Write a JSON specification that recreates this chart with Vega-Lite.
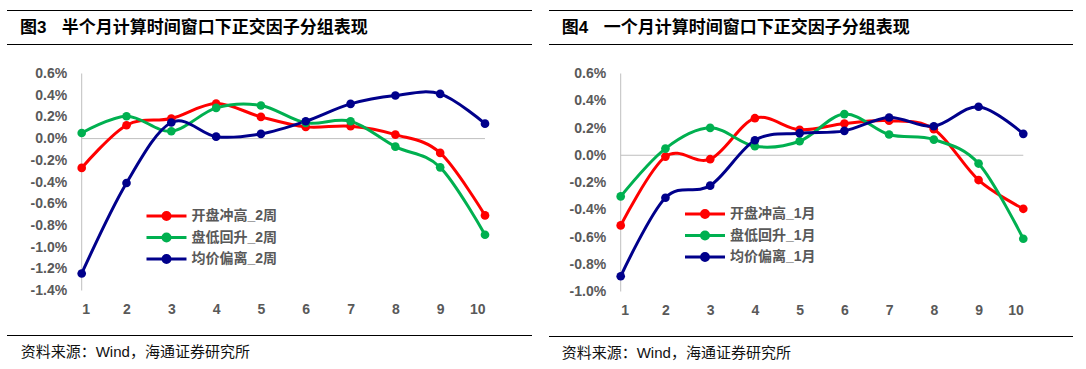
{
  "$schema": "https://vega.github.io/schema/vega-lite/v6.json",
  "padding": {"left": 6, "top": 9.5, "right": 0, "bottom": 0},
  "background": "white",
  "config": {"view": {"stroke": null}, "font": "Liberation Sans"},
  "datasets": {
    "left": [
      {"group": 1, "series": "开盘冲高_2周", "value": -0.0027},
      {"group": 2, "series": "开盘冲高_2周", "value": 0.00123},
      {"group": 3, "series": "开盘冲高_2周", "value": 0.00185},
      {"group": 4, "series": "开盘冲高_2周", "value": 0.00323},
      {"group": 5, "series": "开盘冲高_2周", "value": 0.002},
      {"group": 6, "series": "开盘冲高_2周", "value": 0.00108},
      {"group": 7, "series": "开盘冲高_2周", "value": 0.00114},
      {"group": 8, "series": "开盘冲高_2周", "value": 0.00037},
      {"group": 9, "series": "开盘冲高_2周", "value": -0.00132},
      {"group": 10, "series": "开盘冲高_2周", "value": -0.00708},
      {"group": 1, "series": "盘低回升_2周", "value": 0.00052},
      {"group": 2, "series": "盘低回升_2周", "value": 0.00206},
      {"group": 3, "series": "盘低回升_2周", "value": 0.00068},
      {"group": 4, "series": "盘低回升_2周", "value": 0.00283},
      {"group": 5, "series": "盘低回升_2周", "value": 0.00305},
      {"group": 6, "series": "盘低回升_2周", "value": 0.00145},
      {"group": 7, "series": "盘低回升_2周", "value": 0.0016},
      {"group": 8, "series": "盘低回升_2周", "value": -0.00074},
      {"group": 9, "series": "盘低回升_2周", "value": -0.00265},
      {"group": 10, "series": "盘低回升_2周", "value": -0.00886},
      {"group": 1, "series": "均价偏离_2周", "value": -0.01243},
      {"group": 2, "series": "均价偏离_2周", "value": -0.00409},
      {"group": 3, "series": "均价偏离_2周", "value": 0.00148},
      {"group": 4, "series": "均价偏离_2周", "value": 0.00018},
      {"group": 5, "series": "均价偏离_2周", "value": 0.00043},
      {"group": 6, "series": "均价偏离_2周", "value": 0.0016},
      {"group": 7, "series": "均价偏离_2周", "value": 0.0032},
      {"group": 8, "series": "均价偏离_2周", "value": 0.00397},
      {"group": 9, "series": "均价偏离_2周", "value": 0.00412},
      {"group": 10, "series": "均价偏离_2周", "value": 0.00138}
    ],
    "right": [
      {"group": 1, "series": "开盘冲高_1月", "value": -0.00515},
      {"group": 2, "series": "开盘冲高_1月", "value": -0.0001},
      {"group": 3, "series": "开盘冲高_1月", "value": -0.00029},
      {"group": 4, "series": "开盘冲高_1月", "value": 0.00272},
      {"group": 5, "series": "开盘冲高_1月", "value": 0.00187},
      {"group": 6, "series": "开盘冲高_1月", "value": 0.00233},
      {"group": 7, "series": "开盘冲高_1月", "value": 0.00253},
      {"group": 8, "series": "开盘冲高_1月", "value": 0.00191},
      {"group": 9, "series": "开盘冲高_1月", "value": -0.00182},
      {"group": 10, "series": "开盘冲高_1月", "value": -0.00393},
      {"group": 1, "series": "盘低回升_1月", "value": -0.00302},
      {"group": 2, "series": "盘低回升_1月", "value": 0.00049},
      {"group": 3, "series": "盘低回升_1月", "value": 0.00201},
      {"group": 4, "series": "盘低回升_1月", "value": 0.00066},
      {"group": 5, "series": "盘低回升_1月", "value": 0.00103},
      {"group": 6, "series": "盘低回升_1月", "value": 0.00302},
      {"group": 7, "series": "盘低回升_1月", "value": 0.00152},
      {"group": 8, "series": "盘低回升_1月", "value": 0.00115},
      {"group": 9, "series": "盘低回升_1月", "value": -0.00061},
      {"group": 10, "series": "盘低回升_1月", "value": -0.00613},
      {"group": 1, "series": "均价偏离_1月", "value": -0.00888},
      {"group": 2, "series": "均价偏离_1月", "value": -0.00312},
      {"group": 3, "series": "均价偏离_1月", "value": -0.00223},
      {"group": 4, "series": "均价偏离_1月", "value": 0.0011},
      {"group": 5, "series": "均价偏离_1月", "value": 0.00162},
      {"group": 6, "series": "均价偏离_1月", "value": 0.00179},
      {"group": 7, "series": "均价偏离_1月", "value": 0.00277},
      {"group": 8, "series": "均价偏离_1月", "value": 0.00213},
      {"group": 9, "series": "均价偏离_1月", "value": 0.00356},
      {"group": 10, "series": "均价偏离_1月", "value": 0.00157}
    ]
  },
  "spacing": 15,
  "resolve": {"scale": {"color": "independent"}, "legend": {"color": "independent"}},
  "hconcat": [
    {
      "spacing": 21,
      "resolve": {"scale": {"color": "independent"}, "legend": {"color": "independent"}},
      "vconcat": [
        {
          "width": 525, "height": 34,
          "data": {"values": [{}]},
          "layer": [
            {"mark": {"type": "rule", "color": "#000000", "strokeWidth": 1.2},
             "encoding": {"y": {"datum": 1, "type": "quantitative", "scale": {"domain": [0, 1]}, "axis": null}}},
            {"mark": {"type": "rule", "color": "#000000", "strokeWidth": 1.2},
             "encoding": {"y": {"datum": 0, "type": "quantitative", "scale": {"domain": [0, 1]}, "axis": null}}},
            {"mark": {"type": "text", "align": "left", "baseline": "middle", "dx": 13, "fontSize": 17, "fontWeight": "bold", "font": "Liberation Sans, Noto Sans CJK SC", "color": "#000000"},
             "encoding": {"x": {"datum": 0, "type": "quantitative", "scale": {"domain": [0, 1]}, "axis": null}, "y": {"datum": 0.5, "type": "quantitative", "scale": {"domain": [0, 1]}, "axis": null}, "text": {"value": "图3"}}},
            {"mark": {"type": "text", "align": "left", "baseline": "middle", "dx": 54.7, "fontSize": 17, "fontWeight": "bold", "font": "Noto Sans CJK SC", "color": "#000000"},
             "encoding": {"x": {"datum": 0, "type": "quantitative", "scale": {"domain": [0, 1]}, "axis": null}, "y": {"datum": 0.5, "type": "quantitative", "scale": {"domain": [0, 1]}, "axis": null}, "text": {"value": "半个月计算时间窗口下正交因子分组表现"}}}
          ]
        },
        {
          "spacing": 18,
          "resolve": {"scale": {"color": "independent"}, "legend": {"color": "independent"}},
          "vconcat": [
            {
              "width": 525, "height": 217,
              "layer": [
                {"data": {"values": [{}]},
                 "mark": {"type": "rule", "color": "#BFBFBF", "strokeWidth": 1},
                 "encoding": {"x": {"datum": 1, "type": "quantitative", "scale": {"domain": [1, 10], "range": [74.7, 478], "zero": false, "nice": false}}, "x2": {"datum": 10}, "y": {"datum": 0, "type": "quantitative", "scale": {"domain": [-0.014, 0.006], "nice": false, "zero": false}}}},
                {"data": {"values": [{}]},
                 "mark": {"type": "rule", "color": "#BFBFBF", "strokeWidth": 1},
                 "encoding": {"x": {"datum": 1, "type": "quantitative", "scale": {"domain": [1, 10], "range": [74.7, 478], "zero": false, "nice": false}}, "y": {"datum": -0.014, "type": "quantitative", "scale": {"domain": [-0.014, 0.006], "nice": false, "zero": false}}, "y2": {"datum": 0.006}}},
                {"data": {"name": "left"},
                 "mark": {"type": "line", "interpolate": "cardinal", "strokeWidth": 3, "point": {"filled": true, "size": 75, "opacity": 1}},
                 "encoding": {
                   "x": {"field": "group", "type": "quantitative",
                         "scale": {"domain": [1, 10], "range": [74.7, 478], "zero": false, "nice": false},
                         "axis": {"values": [1, 2, 3, 4, 5, 6, 7, 8, 9, 10], "tickCount": 20, "format": "d", "title": null, "domain": false, "ticks": false, "grid": false, "labelPadding": 12, "labelFontSize": 14, "labelFontWeight": "bold", "labelColor": "#595959", "labelFont": "Liberation Sans", "labelOverlap": false}},
                   "y": {"field": "value", "type": "quantitative",
                         "scale": {"domain": [-0.014, 0.006], "nice": false, "zero": false},
                         "axis": {"values": [-0.014, -0.012, -0.01, -0.008, -0.006, -0.004, -0.002, 0, 0.002, 0.004, 0.006], "tickCount": 20, "format": ".1%", "labelExpr": "replace(datum.label, '\u2212', '-')", "title": null, "offset": -74.7, "domain": false, "ticks": false, "grid": false, "labelPadding": 15, "labelFontSize": 14, "labelFontWeight": "bold", "labelColor": "#595959", "labelFont": "Liberation Sans", "labelOverlap": false, "labelBound": false}},
                   "color": {"field": "series", "type": "nominal",
                             "scale": {"domain": ["开盘冲高_2周", "盘低回升_2周", "均价偏离_2周"], "range": ["#FF0000", "#00B050", "#00008B"]},
                             "legend": {"orient": "none", "legendX": 151, "legendY": 134, "title": null, "padding": 0, "symbolType": "M-2.857,0H2.857M0.514,0A0.514,0.514,0,1,1,-0.514,0A0.514,0.514,0,1,1,0.514,0M0.114,0A0.114,0.114,0,1,1,-0.114,0A0.114,0.114,0,1,1,0.114,0", "symbolSize": 196, "symbolStrokeWidth": 2.8, "labelOffset": 16.5, "rowPadding": 2.5, "labelFontSize": 14, "labelFontWeight": "bold", "labelColor": "#595959", "labelFont": "Liberation Sans, Noto Sans CJK SC"}}
                 }}
              ]
            },
            {
              "width": 525, "height": 32,
              "data": {"values": [{}]},
              "layer": [
                {"mark": {"type": "rule", "color": "#000000", "strokeWidth": 1.2},
                 "encoding": {"y": {"datum": 1, "type": "quantitative", "scale": {"domain": [0, 1]}, "axis": null}}},
                {"mark": {"type": "text", "align": "left", "baseline": "middle", "dx": 13.7, "fontSize": 15, "font": "Liberation Sans, Noto Sans CJK SC", "color": "#111111"},
                 "encoding": {"x": {"datum": 0, "type": "quantitative", "scale": {"domain": [0, 1]}, "axis": null}, "y": {"datum": 0.5, "type": "quantitative", "scale": {"domain": [0, 1]}, "axis": null}, "text": {"value": "资料来源：Wind，海通证券研究所"}}}
              ]
            }
          ]
        }
      ]
    },
    {
      "spacing": 21,
      "resolve": {"scale": {"color": "independent"}, "legend": {"color": "independent"}},
      "vconcat": [
        {
          "width": 524, "height": 34,
          "data": {"values": [{}]},
          "layer": [
            {"mark": {"type": "rule", "color": "#000000", "strokeWidth": 1.2},
             "encoding": {"y": {"datum": 1, "type": "quantitative", "scale": {"domain": [0, 1]}, "axis": null}}},
            {"mark": {"type": "rule", "color": "#000000", "strokeWidth": 1.2},
             "encoding": {"y": {"datum": 0, "type": "quantitative", "scale": {"domain": [0, 1]}, "axis": null}}},
            {"mark": {"type": "text", "align": "left", "baseline": "middle", "dx": 12.7, "fontSize": 17, "fontWeight": "bold", "font": "Liberation Sans, Noto Sans CJK SC", "color": "#000000"},
             "encoding": {"x": {"datum": 0, "type": "quantitative", "scale": {"domain": [0, 1]}, "axis": null}, "y": {"datum": 0.5, "type": "quantitative", "scale": {"domain": [0, 1]}, "axis": null}, "text": {"value": "图4"}}},
            {"mark": {"type": "text", "align": "left", "baseline": "middle", "dx": 54.7, "fontSize": 17, "fontWeight": "bold", "font": "Noto Sans CJK SC", "color": "#000000"},
             "encoding": {"x": {"datum": 0, "type": "quantitative", "scale": {"domain": [0, 1]}, "axis": null}, "y": {"datum": 0.5, "type": "quantitative", "scale": {"domain": [0, 1]}, "axis": null}, "text": {"value": "一个月计算时间窗口下正交因子分组表现"}}}
          ]
        },
        {
          "spacing": 18,
          "resolve": {"scale": {"color": "independent"}, "legend": {"color": "independent"}},
          "vconcat": [
            {
              "width": 524, "height": 218,
              "layer": [
                {"data": {"values": [{}]},
                 "mark": {"type": "rule", "color": "#BFBFBF", "strokeWidth": 1},
                 "encoding": {"x": {"datum": 1, "type": "quantitative", "scale": {"domain": [1, 10], "range": [71.7, 474.3], "zero": false, "nice": false}}, "x2": {"datum": 10}, "y": {"datum": 0, "type": "quantitative", "scale": {"domain": [-0.01, 0.006], "nice": false, "zero": false}}}},
                {"data": {"values": [{}]},
                 "mark": {"type": "rule", "color": "#BFBFBF", "strokeWidth": 1},
                 "encoding": {"x": {"datum": 1, "type": "quantitative", "scale": {"domain": [1, 10], "range": [71.7, 474.3], "zero": false, "nice": false}}, "y": {"datum": -0.01, "type": "quantitative", "scale": {"domain": [-0.01, 0.006], "nice": false, "zero": false}}, "y2": {"datum": 0.006}}},
                {"data": {"name": "right"},
                 "mark": {"type": "line", "interpolate": "cardinal", "strokeWidth": 3, "point": {"filled": true, "size": 75, "opacity": 1}},
                 "encoding": {
                   "x": {"field": "group", "type": "quantitative",
                         "scale": {"domain": [1, 10], "range": [71.7, 474.3], "zero": false, "nice": false},
                         "axis": {"values": [1, 2, 3, 4, 5, 6, 7, 8, 9, 10], "tickCount": 20, "format": "d", "title": null, "domain": false, "ticks": false, "grid": false, "labelPadding": 12, "labelFontSize": 14, "labelFontWeight": "bold", "labelColor": "#595959", "labelFont": "Liberation Sans", "labelOverlap": false}},
                   "y": {"field": "value", "type": "quantitative",
                         "scale": {"domain": [-0.01, 0.006], "nice": false, "zero": false},
                         "axis": {"values": [-0.01, -0.008, -0.006, -0.004, -0.002, 0, 0.002, 0.004, 0.006], "tickCount": 20, "format": ".1%", "labelExpr": "replace(datum.label, '\u2212', '-')", "title": null, "offset": -71.7, "domain": false, "ticks": false, "grid": false, "labelPadding": 15, "labelFontSize": 14, "labelFontWeight": "bold", "labelColor": "#595959", "labelFont": "Liberation Sans", "labelOverlap": false, "labelBound": false}},
                   "color": {"field": "series", "type": "nominal",
                             "scale": {"domain": ["开盘冲高_1月", "盘低回升_1月", "均价偏离_1月"], "range": ["#FF0000", "#00B050", "#00008B"]},
                             "legend": {"orient": "none", "legendX": 147.5, "legendY": 132, "title": null, "padding": 0, "symbolType": "M-2.857,0H2.857M0.514,0A0.514,0.514,0,1,1,-0.514,0A0.514,0.514,0,1,1,0.514,0M0.114,0A0.114,0.114,0,1,1,-0.114,0A0.114,0.114,0,1,1,0.114,0", "symbolSize": 196, "symbolStrokeWidth": 2.8, "labelOffset": 16.5, "rowPadding": 2.5, "labelFontSize": 14, "labelFontWeight": "bold", "labelColor": "#595959", "labelFont": "Liberation Sans, Noto Sans CJK SC"}}
                 }}
              ]
            },
            {
              "width": 524, "height": 32,
              "data": {"values": [{}]},
              "layer": [
                {"mark": {"type": "rule", "color": "#000000", "strokeWidth": 1.2},
                 "encoding": {"y": {"datum": 1, "type": "quantitative", "scale": {"domain": [0, 1]}, "axis": null}}},
                {"mark": {"type": "text", "align": "left", "baseline": "middle", "dx": 12.7, "fontSize": 15, "font": "Liberation Sans, Noto Sans CJK SC", "color": "#111111"},
                 "encoding": {"x": {"datum": 0, "type": "quantitative", "scale": {"domain": [0, 1]}, "axis": null}, "y": {"datum": 0.5, "type": "quantitative", "scale": {"domain": [0, 1]}, "axis": null}, "text": {"value": "资料来源：Wind，海通证券研究所"}}}
              ]
            }
          ]
        }
      ]
    }
  ]
}
